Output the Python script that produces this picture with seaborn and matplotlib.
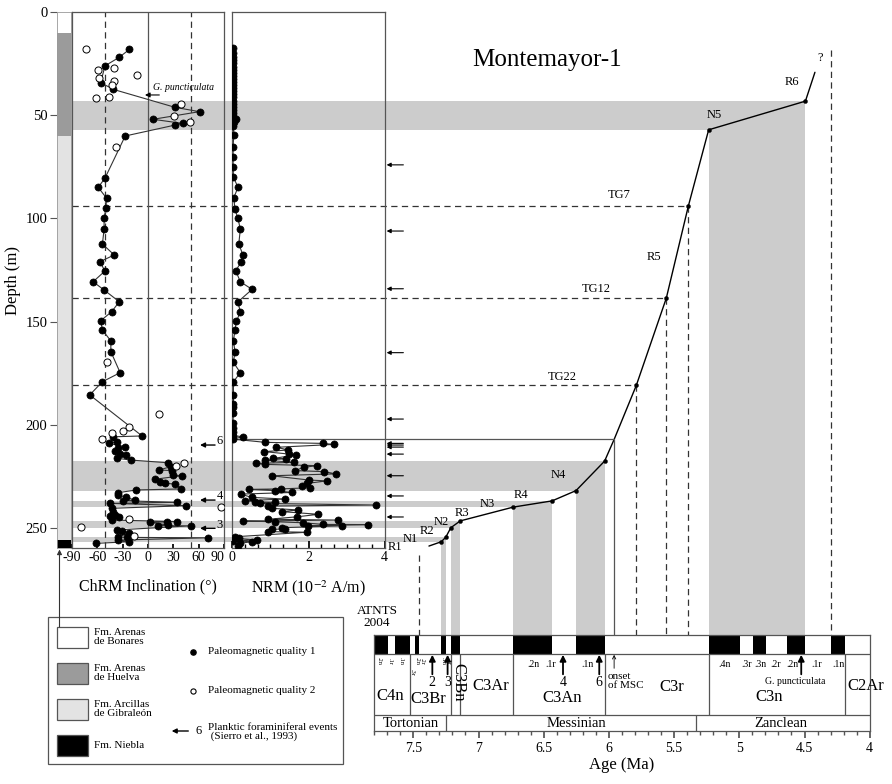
import matplotlib
matplotlib.use("Agg")
import matplotlib.pyplot as plt
from matplotlib.patches import Rectangle
from matplotlib.ticker import MultipleLocator, FixedLocator
import seaborn as sns

# ---------------- data ----------------
# lithology column (m)
lith_top = [0, 10, 60, 256]
lith_base = [10, 60, 256, 260]
lith_color = ["white", "#9b9b9b", "#e3e3e3", "black"]
lith_names = ["Fm. Arenas\nde Bonares", "Fm. Arenas\nde Huelva",
              "Fm. Arcillas\nde Gibraleón", "Fm. Niebla"]

# ChRM inclination, quality 1 (filled) and quality 2 (open)
q1_depth = [18.0, 21.8, 26.0, 34.1, 37.4, 46.1, 48.2, 51.9, 53.9, 54.7, 60.0, 80.5,
            84.9, 90.2, 95.1, 100.0, 105.3, 112.4, 117.7, 121.0, 125.5, 130.7, 134.7,
            140.4, 145.2, 149.6, 154.1, 159.4, 164.6, 174.8, 179.2, 185.6, 205.5, 205.9,
            208.3, 209.1, 210.7, 211.5, 212.6, 214.3, 214.7, 216.3, 217.2, 218.5, 220.4,
            222.0, 222.3, 224.4, 224.8, 226.5, 227.7, 228.5, 228.8, 231.2, 231.7, 233.0,
            234.1, 235.3, 236.6, 236.9, 237.7, 238.2, 239.3, 240.6, 242.2, 243.8, 244.3,
            244.9, 246.3, 247.0, 247.2, 247.4, 248.7, 249.0, 249.1, 251.1, 251.6, 252.7,
            254.4, 254.7, 254.9, 256.0, 256.8, 257.6]
q1_inc = [-22, -34, -51, -56, -41, 32, 61, 6, 41, 32, -27, -51, -59, -49, -50, -52, -52,
          -54, -40, -57, -51, -65, -52, -34, -43, -56, -54, -44, -44, -33, -54, -69, -7,
          -41, -37, -46, -27, -35, -39, -33, -26, -37, -20, 24, 27, 13, 29, 30, 40, 8, 14,
          20, 32, 39, -14, -35, -35, -26, -15, -30, 34, -45, 45, -43, -41, -39, -45, -34,
          -43, 34, 22, 2, 24, 12, 51, -37, -31, -23, -35, -25, 71, -36, -23, -61]
q2_depth = [17.6, 27.2, 28.0, 30.4, 32.0, 33.2, 35.3, 40.9, 41.7, 44.5, 50.3, 53.1, 65.2,
            169.8, 194.8, 201.3, 203.1, 203.9, 207.0, 218.8, 219.9, 239.8, 245.8, 249.5, 254.0]
q2_inc = [-73, -40, -59, -13, -58, -40, -43, -46, -62, 39, 31, 50, -38, -49, 13, -22, -30,
          -43, -54, 43, 33, 86, -22, -79, -17]

# NRM intensity (10^-2 A/m)
nrm_depth = [17.5, 19.5, 21.5, 23.2, 24.8, 26.3, 27.8, 29.3, 30.8, 32.3, 33.8, 35.3, 36.8,
             38.3, 39.8, 41.3, 42.8, 44.3, 45.8, 47.3, 48.8, 50.3, 51.8, 53.3, 55.0, 59.5,
             65.2, 70.3, 75.2, 80.0, 84.9, 89.9, 95.6, 100.0, 105.3, 112.4, 117.7, 121.0,
             125.3, 130.7, 134.4, 140.4, 145.6, 149.6, 154.1, 159.3, 164.6, 169.8, 174.8,
             179.2, 185.6, 190.0, 191.6, 194.5, 199.4, 201.8, 203.4, 205.3, 205.9, 207.0,
             208.6, 209.1, 209.6, 211.0, 212.3, 213.1, 214.3, 214.7, 216.4, 216.5, 217.2,
             218.3, 218.8, 219.3, 219.9, 220.7, 222.3, 222.8, 223.9, 224.8, 226.9, 227.3,
             228.5, 229.6, 230.6, 231.2, 231.4, 232.0, 232.9, 233.7, 235.3, 236.1, 236.9,
             237.4, 237.7, 238.2, 239.0, 239.5, 240.6, 241.4, 242.2, 243.5, 244.7, 245.9,
             246.3, 246.8, 247.1, 247.6, 248.4, 248.5, 249.0, 249.1, 250.0, 250.6, 250.8,
             251.9, 252.2, 254.4, 255.2, 256.0, 256.3, 256.8, 257.6, 258.8]
nrm_val = [0.03, 0.02, 0.02, 0.03, 0.02, 0.03, 0.02, 0.03, 0.02, 0.03, 0.02, 0.03, 0.03,
           0.02, 0.03, 0.02, 0.03, 0.02, 0.03, 0.02, 0.03, 0.02, 0.09, 0.04, 0.03, 0.04,
           0.02, 0.02, 0.02, 0.03, 0.15, 0.04, 0.07, 0.15, 0.21, 0.17, 0.28, 0.24, 0.09,
           0.21, 0.52, 0.15, 0.21, 0.11, 0.07, 0.03, 0.07, 0.03, 0.21, 0.03, 0.03, 0.03,
           0.03, 0.03, 0.01, 0.01, 0.01, 0.01, 0.28, 0.01, 0.86, 2.37, 2.67, 1.16, 1.47,
           0.84, 1.50, 1.67, 1.08, 1.41, 0.86, 1.62, 0.62, 0.86, 2.23, 1.88, 1.65, 2.41,
           2.72, 1.03, 2.02, 2.48, 1.97, 1.82, 2.04, 1.27, 0.45, 1.12, 1.58, 0.22, 0.51,
           1.38, 0.33, 0.60, 1.12, 0.74, 3.77, 0.95, 1.03, 1.73, 1.30, 2.26, 1.71, 0.95,
           2.78, 0.28, 1.12, 1.85, 2.39, 3.56, 1.99, 2.87, 1.30, 1.38, 1.03, 0.95, 1.95,
           0.07, 0.17, 0.64, 0.01, 0.51, 0.19, 0.15]

# planktic foraminiferal events (depth, m)
fora_depth = [74.0, 106.1, 134.1, 165.1, 197.3, 209.1, 209.9, 210.9, 214.3, 224.8, 234.6, 244.8]
inc_event_label = ["G. puncticulata", "6", "4", "3"]
inc_event_depth = [40.1, 209.9, 236.6, 250.3]

# age-depth model: tie points (age Ma, depth m)
curve_age = [7.380, 7.285, 7.251, 7.212, 7.140, 6.733, 6.436, 6.252, 6.033, 5.96,
             5.79, 5.56, 5.39, 5.235, 4.493, 4.420]
curve_depth = [258.9, 256.8, 254.6, 250.0, 246.7, 240.0, 237.0, 232.0, 217.7, 207.2,
               181.0, 138.7, 93.8, 57.0, 43.1, 29.1]
curve_tie = [0, 1, 1, 1, 1, 1, 1, 1, 1, 0, 1, 1, 1, 1, 1, 0]
curve_label = ["", "N1", "R2", "N2", "R3", "N3", "R4", "", "N4", "", "TG22", "TG12",
               "TG7", "N5", "R6", "?"]
msc_age, msc_depth = 5.96, 207.2
tg_age = [5.39, 5.56, 5.79]
tg_depth = [93.8, 138.7, 181.0]
ref_age = [7.454, 4.300]
ref_top = [263.2, 18.3]

# normal polarity intervals correlated in the core
band_young = [4.493, 6.033, 6.436, 7.140, 7.251]
band_old = [5.235, 6.252, 6.733, 7.212, 7.285]
band_top = [43.1, 217.7, 237.0, 246.7, 254.6]
band_bot = [57.0, 232.0, 240.0, 250.0, 256.8]

# ATNTS2004 polarity time scale
normal_old = [8.108, 7.642, 7.489, 7.285, 7.212, 6.733, 6.252, 5.235, 4.896, 4.631, 4.300]
normal_young = [7.695, 7.528, 7.454, 7.251, 7.140, 6.436, 6.033, 4.997, 4.799, 4.493, 4.187]
chron_bounds = [7.528, 7.212, 7.140, 6.733, 6.033, 5.235, 4.187]
chron_names = ["C4n", "C3Br", "C3Bn", "C3Ar", "C3An", "C3r", "C3n", "C2Ar"]
chron_label_age = [7.679, 7.383, 7.154, 6.906, 6.355, 5.519, 4.772, 4.03]
sub_names = [".2n", ".1r", ".1n", ".4n", ".3r", ".3n", ".2r", ".2n", ".1r", ".1n"]
sub_age = [6.581, 6.446, 6.165, 5.110, 4.941, 4.837, 4.720, 4.590, 4.408, 4.238]
tiny_names = [".2n", ".1r", ".1n", ".3r", ".2n", ".2r", ".1n", ".1r"]
tiny_age = [7.761, 7.676, 7.594, 7.508, 7.474, 7.436, 7.27, 7.23]
stage_bounds = [7.246, 5.333]
stage_names = ["Tortonian", "Messinian", "Zanclean"]
stage_label_age = [7.518, 6.247, 4.680]
ts_event_label = ["2", "3", "4", "6", "G. puncticulata"]
ts_event_age = [7.354, 7.237, 6.352, 6.074, 4.525]

# ---------------- layout (pixels of the 892x784 figure) ----------------
W, H = 892, 784
Y_TOP = 12.3            # pixel row of depth 0
DEPTH_PX = 2.0616       # pixels per metre
Y_PANEL_BOT = Y_TOP + 260 * DEPTH_PX
PX_PER_MA = 130.4
X_AGE4 = 869.7          # pixel column of 4.0 Ma
Y_TS_TOP, Y_TS_BOT = 635.3, 731.3
TS_XLIM = (7.8, 4.0)

GREY = "#cccccc"
FRAME = "#555555"
LINE = "#333333"
DASH = (0, (5, 3.5))


def box(x0, y0, x1, y1):
    return [x0 / W, 1 - y1 / H, (x1 - x0) / W, (y1 - y0) / H]


def age_at(px):
    return 4.0 + (X_AGE4 - px) / PX_PER_MA


def depth_at(py):
    return (py - Y_TOP) / DEPTH_PX


sns.set_theme(style="white")
plt.rcParams["font.family"] = ["Liberation Serif", "DejaVu Serif"]
plt.rcParams["mathtext.fontset"] = "stix"
plt.rcParams["axes.unicode_minus"] = False
plt.rcParams["axes.edgecolor"] = FRAME
plt.rcParams["axes.linewidth"] = 0.9
for k in ["text.color", "axes.labelcolor", "xtick.color", "ytick.color"]:
    plt.rcParams[k] = "black"

fig = plt.figure(figsize=(W / 100, H / 100), dpi=100)

# pixel canvas for legend / free text
ax_px = fig.add_axes([0, 0, 1, 1], zorder=0)
ax_px.set_xlim(0, W)
ax_px.set_ylim(H, 0)
ax_px.axis("off")

# ---------------- age-depth overlay ----------------
ax_age = fig.add_axes(box(72, Y_TOP, X_AGE4, Y_TS_TOP), zorder=1)
ax_age.set_xlim(age_at(72), 4.0)
ax_age.set_ylim(depth_at(Y_TS_TOP), 0)
ax_age.axis("off")
xl = ax_age.get_xlim()[0]
yb = ax_age.get_ylim()[0]

for yg, od, t, b in zip(band_young, band_old, band_top, band_bot):
    ax_age.fill_between([xl, yg], t, b, color=GREY, lw=0)
    ax_age.fill_between([od, yg], t, yb, color=GREY, lw=0)

for a, d in zip(tg_age, tg_depth):
    ax_age.plot([xl, a], [d, d], color=LINE, lw=0.9, ls=DASH)
    ax_age.plot([a, a], [d, yb], color=LINE, lw=0.9, ls=DASH)
for a, t in zip(ref_age, ref_top):
    ax_age.plot([a, a], [t, yb], color=LINE, lw=0.9, ls=DASH)

sns.lineplot(x=curve_age, y=curve_depth, sort=False, estimator=None, color="black",
             lw=1.0, ax=ax_age)
tie = [i for i, f in enumerate(curve_tie) if f]
sns.scatterplot(x=[curve_age[i] for i in tie], y=[curve_depth[i] for i in tie], s=9,
                color="black", edgecolor="black", ax=ax_age, zorder=4)

# curve labels (placed, in pixels)
lab_px = {"N1": (410, 539), "R2": (426.7, 531), "N2": (441.7, 522.3), "R3": (461.7, 513.3),
          "N3": (487.3, 504.3), "R4": (520.7, 495), "N4": (558.3, 475), "TG22": (562.7, 376.7),
          "TG12": (596, 289.3), "TG7": (619, 195), "N5": (714.3, 115), "R6": (792.3, 81.7),
          "?": (820, 58.3)}
for name in curve_label:
    if name:
        px, py = lab_px[name]
        ax_age.text(age_at(px), depth_at(py), name, fontsize=9, ha="center", va="center")
ax_age.text(age_at(654), depth_at(257), "R5", fontsize=9, ha="center", va="center")
ax_age.text(age_at(395), depth_at(546.7), "R1", fontsize=9, ha="center", va="center")

# ---------------- lithology ----------------
ax_lith = fig.add_axes(box(57, Y_TOP, 71, Y_PANEL_BOT), zorder=2)
for t, b, c in zip(lith_top, lith_base, lith_color):
    ax_lith.axhspan(t, b, color=c, lw=0)
ax_lith.set_xlim(0, 1)
ax_lith.set_ylim(260, 0)
ax_lith.set_xticks([])
ax_lith.yaxis.set_major_locator(MultipleLocator(50))
ax_lith.tick_params(axis="y", left=True, direction="out", length=5, width=0.8,
                    labelsize=10.5, pad=2, color=FRAME)
for s in ax_lith.spines.values():
    s.set_color("#999999")
    s.set_linewidth(0.6)
ax_lith.set_ylabel("Depth (m)", fontsize=12, labelpad=3)

# ---------------- inclination ----------------
ax_inc = fig.add_axes(box(72, Y_TOP, 224, Y_PANEL_BOT), zorder=2, facecolor="none")
ax_inc.axvline(0, color=FRAME, lw=0.9)
ax_inc.axvline(-51, color=LINE, lw=0.9, ls=DASH)
ax_inc.axvline(51, color=LINE, lw=0.9, ls=DASH)
sns.lineplot(x=q1_inc, y=q1_depth, sort=False, estimator=None, color=LINE, lw=0.8, ax=ax_inc)
sns.scatterplot(x=q1_inc, y=q1_depth, s=26, color="black", edgecolor="black",
                linewidth=0.5, ax=ax_inc, zorder=3)
sns.scatterplot(x=q2_inc, y=q2_depth, s=26, color="white", edgecolor="black",
                linewidth=0.7, ax=ax_inc, zorder=3)
ax_inc.set_xlim(-90, 90)
ax_inc.set_ylim(260, 0)
ax_inc.set_yticks([])
ax_inc.xaxis.set_major_locator(FixedLocator([-90, -60, -30, 0, 30, 60, 90]))
ax_inc.tick_params(axis="x", bottom=True, direction="in", length=3, labelsize=10, pad=2)
ax_inc.set_xlabel("ChRM Inclination (°)", fontsize=11.5, labelpad=10)
ax_inc.set_ylabel("")
fig.canvas.draw()
inc_labels = ax_inc.get_xticklabels()
inc_labels[-1].set_horizontalalignment("right")
inc_labels[0].set_horizontalalignment("center")

for lab, d in zip(inc_event_label, inc_event_depth):
    if lab.startswith("G."):
        ax_inc.annotate("", xy=(-3.6, d), xytext=(13.4, d),
                        arrowprops=dict(arrowstyle="-|>", lw=0.8, color="black",
                                        mutation_scale=7, shrinkA=0, shrinkB=0))
        ax_inc.text(6.3, d - 1.3, lab, fontsize=7, style="italic", va="bottom")
    else:
        ax_inc.annotate("", xy=(61.6, d), xytext=(79.4, d),
                        arrowprops=dict(arrowstyle="-|>", lw=1.0, color="black",
                                        mutation_scale=7, shrinkA=0, shrinkB=0))
        ax_inc.text(81, d - 1.8, lab, fontsize=9, va="center", ha="left")

# ---------------- NRM ----------------
ax_nrm = fig.add_axes(box(232.3, Y_TOP, 384.7, Y_PANEL_BOT), zorder=2, facecolor="none")
sns.lineplot(x=nrm_val, y=nrm_depth, sort=False, estimator=None, color=LINE, lw=0.8, ax=ax_nrm)
sns.scatterplot(x=nrm_val, y=nrm_depth, s=26, color="black", edgecolor="black",
                linewidth=0.5, ax=ax_nrm, zorder=3)
ax_nrm.set_xlim(0, 4)
ax_nrm.set_ylim(260, 0)
ax_nrm.set_yticks([])
ax_nrm.xaxis.set_major_locator(FixedLocator([0, 2, 4]))
ax_nrm.xaxis.set_minor_locator(MultipleLocator(1 / 3))
ax_nrm.tick_params(axis="x", which="major", bottom=True, direction="in", length=5,
                   labelsize=10, pad=2)
ax_nrm.tick_params(axis="x", which="minor", bottom=True, direction="in", length=3)
ax_nrm.set_xlabel(r"NRM (10$^{-2}$ A/m)", fontsize=11.5, labelpad=10)
ax_nrm.set_ylabel("")
for d in fora_depth:
    ax_nrm.annotate("", xy=(4.05, d), xytext=(4.49, d), annotation_clip=False,
                    arrowprops=dict(arrowstyle="-|>", lw=0.8, color="black",
                                    mutation_scale=6, shrinkA=0, shrinkB=0))

# onset of the MSC: line from the NRM panel to the curve and down to the scale
x0_disp = ax_nrm.transData.transform((0, msc_depth))[0]
x0_age = ax_age.transData.inverted().transform((x0_disp, 0))[0]
ax_age.plot([x0_age, msc_age, msc_age], [msc_depth, msc_depth, yb], color=FRAME, lw=0.9)

# ---------------- time scale ----------------
ts_left = X_AGE4 - (TS_XLIM[0] - 4.0) * PX_PER_MA
ax_ts = fig.add_axes(box(ts_left, Y_TS_TOP, X_AGE4, Y_TS_BOT), zorder=2)
ax_ts.set_xlim(*TS_XLIM)
ax_ts.set_ylim(0, 96)
for o, y in zip(normal_old, normal_young):
    ax_ts.fill_between([o, y], 77, 96, color="black", lw=0)
ax_ts.axhline(77, color=FRAME, lw=0.9)
ax_ts.axhline(16, color=FRAME, lw=0.9)
ax_ts.vlines(chron_bounds, 16, 77, color=FRAME, lw=0.9)
ax_ts.vlines(stage_bounds, 0, 16, color=FRAME, lw=0.9)
ax_ts.set_yticks([])
ax_ts.xaxis.set_major_locator(MultipleLocator(0.5))
ax_ts.xaxis.set_minor_locator(MultipleLocator(0.1))
ax_ts.xaxis.set_major_formatter(lambda v, p: f"{v:g}")
ax_ts.tick_params(axis="x", which="major", bottom=True, direction="out", length=5,
                  labelsize=10, pad=3, color=FRAME)
ax_ts.tick_params(axis="x", which="minor", bottom=True, direction="out", length=3, color=FRAME)
ax_ts.set_xlabel("Age (Ma)", fontsize=12, labelpad=1)

for name, a in zip(chron_names, chron_label_age):
    if name == "C3Bn":
        ax_ts.text(a, 49, name, fontsize=12, rotation=270, ha="center", va="center")
    else:
        y = {"C4n": 35.6, "C3Br": 32, "C3Ar": 45, "C3An": 33.6, "C3r": 44,
             "C3n": 34, "C2Ar": 45}[name]
        ax_ts.text(a, y, name, fontsize=12, ha="center", va="center")
for name, a in zip(sub_names, sub_age):
    ax_ts.text(a, 67, name, fontsize=7, ha="center", va="center")
for name, a in zip(tiny_names, tiny_age):
    ax_ts.text(a, 59 if name == ".3r" else 70, name, fontsize=4.5, rotation=270,
               ha="center", va="center")
for name, a in zip(stage_names, stage_label_age):
    ax_ts.text(a, 8, name, fontsize=10.5, ha="center", va="center")
for lab, a in zip(ts_event_label, ts_event_age):
    ax_ts.annotate("", xy=(a, 76.5), xytext=(a, 57),
                   arrowprops=dict(arrowstyle="-|>", lw=1.3, color="black",
                                   mutation_scale=9, shrinkA=0, shrinkB=0))
    if lab.startswith("G."):
        ax_ts.text(a + 0.05, 49.5, lab, fontsize=7, ha="center", va="center")
    else:
        ax_ts.text(a, 48.5, lab, fontsize=10, ha="center", va="center")
ax_ts.annotate("", xy=(msc_age, 76.5), xytext=(msc_age, 63),
               arrowprops=dict(arrowstyle="->", lw=0.6, color="black",
                               mutation_scale=6, shrinkA=0, shrinkB=0))
ax_ts.text(age_at(607.8), 59.5, "onset\nof MSC", fontsize=8, ha="left", va="top",
           linespacing=1.0)

# ---------------- free text, legend ----------------
ax_px.text(547, 60, "Montemayor-1", fontsize=18, ha="center", va="center")
ax_px.text(377, 617, "ATNTS\n2004", fontsize=9.5, ha="center", va="center", linespacing=1.05)
ax_px.annotate("", xy=(59.5, 549.5), xytext=(59.5, 627),
               arrowprops=dict(arrowstyle="-|>", lw=0.8, color=LINE,
                               mutation_scale=7, shrinkA=0, shrinkB=0))

ax_px.add_patch(Rectangle((48, 617), 295, 147, fill=False, ec=FRAME, lw=0.9))
for i, (name, c) in enumerate(zip(lith_names, lith_color)):
    y0 = 627.3 + 36 * i
    ax_px.add_patch(Rectangle((56.7, y0), 31.6, 20.3, fc=c, ec=FRAME, lw=0.9))
    ax_px.text(94.3, y0 + 10, name, fontsize=8, ha="left", va="center", linespacing=1.05)
ax_px.scatter([193.3], [651.7], s=14, color="black")
ax_px.text(208.3, 651, "Paleomagnetic quality 1", fontsize=8, va="center")
ax_px.scatter([193.3], [690.7], s=14, facecolor="white", edgecolor="black", linewidth=0.8)
ax_px.text(208.3, 690.5, "Paleomagnetic quality 2", fontsize=8, va="center")
ax_px.annotate("", xy=(171.7, 731), xytext=(188.3, 731),
               arrowprops=dict(arrowstyle="-|>", lw=1.0, color="black",
                               mutation_scale=7, shrinkA=0, shrinkB=0))
ax_px.text(198.3, 731, "6", fontsize=9, ha="center", va="center")
ax_px.text(208.3, 732, "Planktic foraminiferal events\n (Sierro et al., 1993)", fontsize=8,
           va="center", linespacing=1.0)

fig.savefig("out.png", dpi=100)
